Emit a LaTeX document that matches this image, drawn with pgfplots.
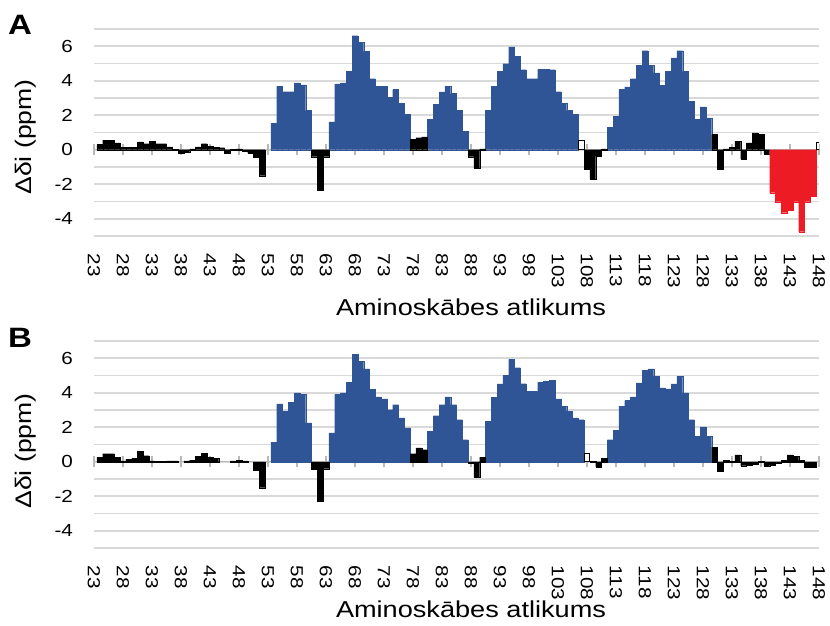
\documentclass[border=0pt]{standalone}
\usepackage{pgfplots}
\pgfplotsset{compat=1.18}
\usepackage{fontspec}
\setmainfont{Liberation Sans}[FakeStretch=1.18]

\definecolor{barblue}{RGB}{47,85,151}
\definecolor{barred}{RGB}{237,28,36}
\definecolor{gridgray}{RGB}{217,217,217}
\definecolor{axisgray}{RGB}{185,185,185}

\pgfplotsset{
  shiftpanel/.style={
    scale only axis, width=725pt, height=207pt,
    xmin=23, xmax=148, ymin=-5, ymax=7,
    axis x line=middle, axis y line=left,
    hide obscured x ticks=false, hide obscured y ticks=false,
    every inner x axis line/.append style={-, draw=axisgray, line width=1.3pt},
    every outer y axis line/.append style={draw=none},
    y axis line style={draw=none},
    xtick={23,28,...,148}, xtick align=center, major tick length=11pt,
    xtick style={draw=axisgray, line width=1.3pt},
    ytick={-5,-4,...,7}, yticklabels={,-4,,-2,,0,,2,,4,,6,},
    ytick style={draw=none},
    ymajorgrids, grid style={gridgray, line width=1.6pt},
    /pgf/number format/assume math mode=true,
    xticklabel style={rotate=-90, anchor=west, font=\fontsize{17.5}{18}\selectfont},
    xticklabel shift=95pt,
    yticklabel style={font=\fontsize{17.5}{18}\selectfont, anchor=east, xshift=-12pt},
  },
  hbar/.style={ybar, bar width=1, bar shift=0pt},
}

\begin{document}
\begin{tikzpicture}
\useasboundingbox (0,0) rectangle (830pt,625pt);

% ---------- panel A ----------
\begin{axis}[shiftpanel, at={(94pt,389pt)}, anchor=south west]
% helical residues
\addplot[hbar, fill=barblue, draw=barblue, line width=0.2pt] coordinates {
  (54,1.52) (55,3.68) (56,3.37) (57,3.37) (58,3.87) (59,3.76) (60,2.27)
  (64,1.62) (65,3.82) (66,3.87) (67,4.55) (68,6.61) (69,6.23) (70,5.71)
  (71,4.12) (72,3.68) (73,3.68) (74,3.04) (75,3.49) (76,2.68) (77,2.04)
  (81,1.75) (82,2.62) (83,3.35) (84,3.68) (85,3.26) (86,2.27) (87,1.08)
  (91,2.27) (92,3.68) (93,4.55) (94,4.99) (95,5.96) (96,5.42) (97,4.64)
  (98,4.12) (99,4.12) (100,4.68) (101,4.68) (102,4.64) (103,3.37) (104,2.71)
  (105,2.27) (106,2.04)
  (112,1.31) (113,1.94) (114,3.49) (115,3.65) (116,4.12) (117,4.88) (118,5.74)
  (119,4.88) (120,4.45) (121,3.72) (122,4.55) (123,5.32) (124,5.74) (125,4.55)
  (126,2.81) (127,1.75) (128,2.48) (129,1.85)
};
% other residues
\addplot[hbar, fill=black, draw=black, line width=0.2pt] coordinates {
  (24,0.30) (25,0.56) (26,0.56) (27,0.40) (28,0.15) (29,0.15) (30,0.15)
  (31,0.45) (32,0.35) (33,0.50) (34,0.35) (35,0.35) (36,0.17) (37,0.02)
  (38,-0.18) (39,-0.15) (40,0.05) (41,0.17) (42,0.35) (43,0.20) (44,0.15)
  (45,0.12) (46,-0.20) (47,0.02) (48,0.05) (49,-0.05) (50,-0.20) (51,-0.45)
  (52,-1.50)
  (61,-0.40) (62,-2.35) (63,-0.40)
  (78,0.60) (79,0.70) (80,0.75)
  (88,-0.40) (89,-1.05) (90,0.05)
  (108,-1.14) (109,-1.72) (110,-0.37) (111,0.05)
  (130,0.88) (131,-1.14) (132,0.05) (133,0.15) (134,0.50) (135,-0.55)
  (136,0.40) (137,0.98) (138,0.88) (139,-0.27)
};
\addplot[hbar, fill=white, draw=black, line width=1pt] coordinates {
  (107,0.54) (148,0.44)
};
% C-terminal residues
\addplot[hbar, fill=barred, draw=barred, line width=0.2pt] coordinates {
  (140,-2.49) (141,-3.01) (142,-3.65) (143,-3.52) (144,-3.01) (145,-4.75)
  (146,-3.01) (147,-2.69)
};
\end{axis}

% ---------- panel B ----------
\begin{axis}[shiftpanel, at={(94pt,77pt)}, anchor=south west]
\addplot[hbar, fill=barblue, draw=barblue, line width=0.2pt] coordinates {
  (54,1.14) (55,3.35) (56,2.93) (57,3.45) (58,3.99) (59,3.90) (60,2.25)
  (64,1.67) (65,3.90) (66,3.99) (67,4.61) (68,6.22) (69,5.83) (70,5.39)
  (71,4.19) (72,3.76) (73,3.64) (74,3.02) (75,3.31) (76,2.54) (77,1.96)
  (81,1.76) (82,2.67) (83,3.31) (84,3.76) (85,3.31) (86,2.44) (87,1.28)
  (91,2.34) (92,3.74) (93,4.52) (94,5.00) (95,5.93) (96,5.45) (97,4.53)
  (98,4.09) (99,4.09) (100,4.61) (101,4.67) (102,4.73) (103,3.64) (104,3.22)
  (105,2.93) (106,2.54) (107,2.44)
  (112,1.28) (113,1.82) (114,3.22) (115,3.55) (116,3.76) (117,4.57) (118,5.29)
  (119,5.39) (120,4.96) (121,4.28) (122,4.22) (123,4.52) (124,4.96) (125,3.99)
  (126,2.44) (127,1.47) (128,2.02) (129,1.47)
};
\addplot[hbar, fill=black, draw=black, line width=0.2pt] coordinates {
  (24,0.27) (25,0.47) (26,0.47) (27,0.27) (28,0.05) (29,0.15) (30,0.20)
  (31,0.60) (32,0.35) (33,0.05) (34,0.02) (35,0.02) (36,0.05) (37,0.05)
  (39,0.05) (40,0.10) (41,0.30) (42,0.50) (43,0.27) (44,0.20)
  (47,0.05) (48,0.10) (49,0.05) (51,-0.50) (52,-1.50)
  (61,-0.43) (62,-2.30) (63,-0.40)
  (78,0.47) (79,0.80) (80,0.70)
  (88,-0.10) (89,-0.89) (90,0.27)
  (109,0.02) (110,-0.30) (111,0.20)
  (130,0.83) (131,-0.56) (132,0.08) (133,0.02) (134,0.40) (135,-0.23)
  (136,-0.20) (137,-0.15) (138,0.02) (139,-0.25) (140,-0.20) (141,-0.10)
  (142,0.10) (143,0.40) (144,0.30) (145,0.10) (146,-0.30) (147,-0.30)
};
\addplot[hbar, fill=white, draw=black, line width=1pt] coordinates {
  (108,0.47)
};
\end{axis}

% panel letters and axis titles
\node[font=\fontsize{28}{28}\selectfont\bfseries] at (20pt,600pt) {A};
\node[font=\fontsize{28}{28}\selectfont\bfseries] at (20pt,287pt) {B};
\node[rotate=90, font=\fontsize{22.5}{23}\selectfont] at (26pt,488pt) {Δδi (ppm)};
\node[rotate=90, font=\fontsize{22.5}{23}\selectfont] at (26pt,174pt) {Δδi (ppm)};
\node[font=\fontsize{23}{23}\selectfont] at (471pt,318pt) {Aminoskābes atlikums};
\node[font=\fontsize{23}{23}\selectfont] at (471pt,16pt) {Aminoskābes atlikums};
\end{tikzpicture}
\end{document}
